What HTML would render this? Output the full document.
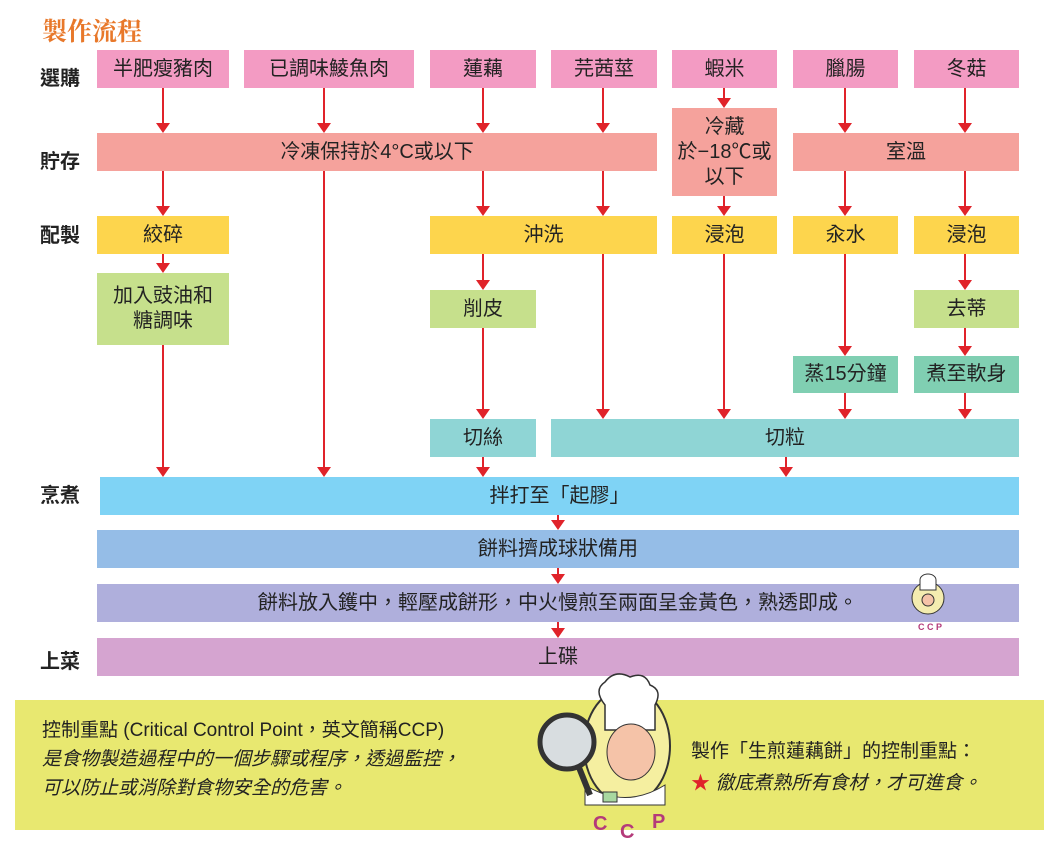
<!DOCTYPE html>
<html><head><meta charset="utf-8"><style>
body{margin:0;width:1061px;height:846px;background:#fff;position:relative;overflow:hidden;font-family:"Liberation Sans","Noto Sans CJK TC",sans-serif;}
.b{position:absolute;display:flex;align-items:center;justify-content:center;text-align:center;font-size:20px;color:#222;line-height:1.25;}
.l{position:absolute;left:40px;font-size:20px;font-weight:bold;color:#222;}
.pk{background:#f39bc3}.sa{background:#f5a29c}.ye{background:#fdd54d}.gr{background:#c6e08c}.te{background:#80cfb2}.cy{background:#8fd5d5}
svg{position:absolute;left:0;top:0}
</style></head><body>
<div style="position:absolute;left:42px;top:12px;font-family:'Noto Serif CJK SC',serif;font-weight:bold;font-size:25px;color:#e8782a">製作流程</div>
<div class="l" style="top:62px">選購</div>
<div class="l" style="top:145px">貯存</div>
<div class="l" style="top:219px">配製</div>
<div class="l" style="top:479px">烹煮</div>
<div class="l" style="top:645px">上菜</div>

<svg width="1061" height="846">
<g stroke="#e0232a" stroke-width="2" fill="none">
<path d="M163 88V124M324 88V124M483 88V124M603 88V124M724 88V99M845 88V124M965 88V124"/>
<path d="M163 171V207M483 171V207M603 171V207M724 196V207M845 171V207M965 171V207"/>
<path d="M324 171V468M163 254V264M163 345V468"/>
<path d="M483 254V281M483 328V410M483 457V468M603 254V410M724 254V410M845 254V347M845 393V410M965 254V281M965 328V347M965 393V410M786 457V468"/>
<path d="M558 515V521M558 568V575M558 622V629"/>
</g>
<g fill="#e0232a">
<path d="M156 123h14l-7 10zM317 123h14l-7 10zM476 123h14l-7 10zM596 123h14l-7 10zM717 98h14l-7 10zM838 123h14l-7 10zM958 123h14l-7 10z"/>
<path d="M156 206h14l-7 10zM476 206h14l-7 10zM596 206h14l-7 10zM717 206h14l-7 10zM838 206h14l-7 10zM958 206h14l-7 10z"/>
<path d="M156 263h14l-7 10zM476 280h14l-7 10zM958 280h14l-7 10zM838 346h14l-7 10zM958 346h14l-7 10z"/>
<path d="M476 409h14l-7 10zM596 409h14l-7 10zM717 409h14l-7 10zM838 409h14l-7 10zM958 409h14l-7 10z"/>
<path d="M156 467h14l-7 10zM317 467h14l-7 10zM476 467h14l-7 10zM779 467h14l-7 10z"/>
<path d="M551 520h14l-7 10zM551 574h14l-7 10zM551 628h14l-7 10z"/>
</g>
</svg>

<div class="b pk" style="left:97px;top:50px;width:132px;height:38px">半肥瘦豬肉</div>
<div class="b pk" style="left:244px;top:50px;width:170px;height:38px">已調味鯪魚肉</div>
<div class="b pk" style="left:430px;top:50px;width:106px;height:38px">蓮藕</div>
<div class="b pk" style="left:551px;top:50px;width:106px;height:38px">芫茜莖</div>
<div class="b pk" style="left:672px;top:50px;width:105px;height:38px">蝦米</div>
<div class="b pk" style="left:793px;top:50px;width:105px;height:38px">臘腸</div>
<div class="b pk" style="left:914px;top:50px;width:105px;height:38px">冬菇</div>

<div class="b sa" style="left:97px;top:133px;width:560px;height:38px">冷凍保持於4°C或以下</div>
<div class="b sa" style="left:672px;top:108px;width:105px;height:88px">冷藏<br>於−18℃或<br>以下</div>
<div class="b sa" style="left:793px;top:133px;width:226px;height:38px">室溫</div>

<div class="b ye" style="left:97px;top:216px;width:132px;height:38px">絞碎</div>
<div class="b ye" style="left:430px;top:216px;width:227px;height:38px">沖洗</div>
<div class="b ye" style="left:672px;top:216px;width:105px;height:38px">浸泡</div>
<div class="b ye" style="left:793px;top:216px;width:105px;height:38px">汆水</div>
<div class="b ye" style="left:914px;top:216px;width:105px;height:38px">浸泡</div>

<div class="b gr" style="left:97px;top:273px;width:132px;height:72px">加入豉油和<br>糖調味</div>
<div class="b gr" style="left:430px;top:290px;width:106px;height:38px">削皮</div>
<div class="b gr" style="left:914px;top:290px;width:105px;height:38px">去蒂</div>
<div class="b te" style="left:793px;top:356px;width:105px;height:37px">蒸15分鐘</div>
<div class="b te" style="left:914px;top:356px;width:105px;height:37px">煮至軟身</div>
<div class="b cy" style="left:430px;top:419px;width:106px;height:38px">切絲</div>
<div class="b cy" style="left:551px;top:419px;width:468px;height:38px">切粒</div>

<div class="b" style="left:100px;top:477px;width:919px;height:38px;background:#7fd3f5">拌打至「起膠」</div>
<div class="b" style="left:97px;top:530px;width:922px;height:38px;background:#95bde7">餅料擠成球狀備用</div>
<div class="b" style="left:97px;top:584px;width:922px;height:38px;background:#afafdc">餅料放入鑊中，輕壓成餅形，中火慢煎至兩面呈金黃色，熟透即成。</div>
<div class="b" style="left:97px;top:638px;width:922px;height:38px;background:#d5a4d0">上碟</div>

<svg width="1061" height="846" style="pointer-events:none">
<circle cx="928" cy="598" r="16" fill="#f4ecb0" stroke="#333"/>
<path d="M920 590h16v-10a8 6 0 0 0-16 0z" fill="#fff" stroke="#333"/>
<circle cx="928" cy="600" r="6" fill="#f5c3a8" stroke="#333"/>
<text x="918" y="630" font-size="9" font-weight="bold" fill="#b43a7a" font-family="Liberation Sans">C C P</text>
</svg>

<div style="position:absolute;left:15px;top:700px;width:1029px;height:130px;background:#e8e870"></div>
<div style="position:absolute;left:42px;top:716px;font-size:19px;line-height:29px;color:#222">控制重點 (Critical Control Point，英文簡稱CCP)<br><i>是食物製造過程中的一個步驟或程序，透過監控，<br>可以防止或消除對食物安全的危害。</i></div>
<svg width="1061" height="846">
<ellipse cx="627" cy="746" rx="43" ry="58" fill="#f5efa0" stroke="#333" stroke-width="2"/>
<path d="M585 785 q40 25 80 0 v20 h-80z" fill="#fff" stroke="#333"/>
<path d="M605 730 h50 v-25 q8-15-5-20 q-5-14-20-8 q-15-8-25 5 q-12 8 0 23z" fill="#fff" stroke="#333" stroke-width="1.5"/>
<ellipse cx="631" cy="752" rx="24" ry="28" fill="#f5c3a8" stroke="#333"/>
<rect x="603" y="792" width="14" height="10" fill="#a8d8a0" stroke="#333"/>
<circle cx="567" cy="742" r="27" fill="#d8dde0" stroke="#333" stroke-width="5"/>
<path d="M578 765 l12 30" stroke="#333" stroke-width="6"/>
<text x="593" y="830" font-size="20" font-weight="bold" fill="#b43a7a" font-family="Liberation Sans">C</text>
<text x="620" y="838" font-size="20" font-weight="bold" fill="#b43a7a" font-family="Liberation Sans">C</text>
<text x="652" y="828" font-size="20" font-weight="bold" fill="#b43a7a" font-family="Liberation Sans">P</text>
</svg>
<div style="position:absolute;left:691px;top:736px;font-size:19px;line-height:32px;color:#222">製作「生煎蓮藕餅」的控制重點：<br><span style="color:#e0232a">★</span> <i>徹底煮熟所有食材，才可進食。</i></div>
</body></html>
